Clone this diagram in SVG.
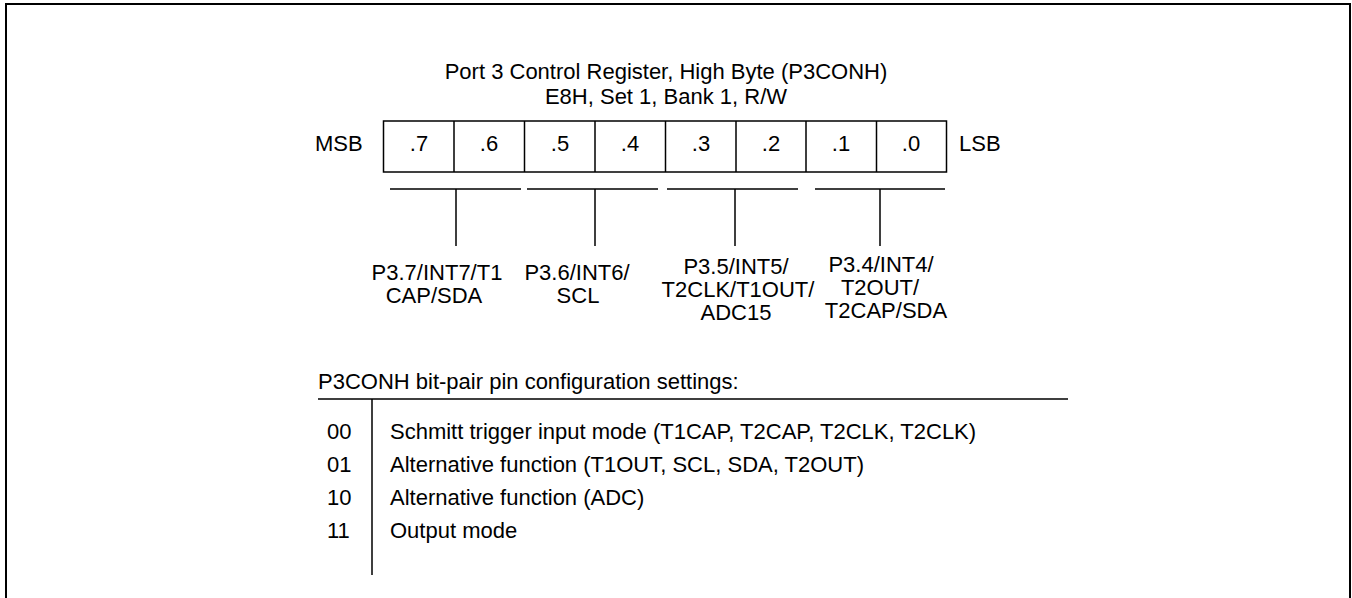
<svg xmlns="http://www.w3.org/2000/svg" width="1352" height="598" viewBox="0 0 1352 598">
<style>
text{font-family:"Liberation Sans",Arial,sans-serif;font-size:22px;fill:#000}
.c{text-anchor:middle}
.ln{stroke:#000;stroke-width:1.5;fill:none}
</style>
<rect x="0" y="0" width="1352" height="598" fill="#fff"/>
<rect x="6" y="4" width="1344" height="700" fill="none" stroke="#000" stroke-width="2"/>
<g id="title">
<text class="c" x="666" y="79">Port 3 Control Register, High Byte (P3CONH)</text>
<text class="c" x="666" y="104">E8H, Set 1, Bank 1, R/W</text>
</g>
<g id="register">
<text x="315" y="151">MSB</text>
<text x="959" y="151">LSB</text>
<rect class="ln" x="383.5" y="121" width="563" height="51"/>
<path class="ln" d="M454 121V172M524.5 121V172M595 121V172M665.5 121V172M736 121V172M806 121V172M876.5 121V172"/>
<text class="c" x="419" y="151">.7</text>
<text class="c" x="489" y="151">.6</text>
<text class="c" x="560" y="151">.5</text>
<text class="c" x="630" y="151">.4</text>
<text class="c" x="701" y="151">.3</text>
<text class="c" x="771" y="151">.2</text>
<text class="c" x="841" y="151">.1</text>
<text class="c" x="911" y="151">.0</text>
</g>
<g id="connectors">
<path class="ln" d="M390 189H521M456 189V246"/>
<path class="ln" d="M527 189H658M595 189V246"/>
<path class="ln" d="M667 189H798M735 189V246"/>
<path class="ln" d="M815 189H945M880 189V246"/>
</g>
<g id="bits76">
<text class="c" x="437" y="280">P3.7/INT7/T1</text>
<text class="c" x="434" y="303">CAP/SDA</text>
</g>
<g id="bits54">
<text class="c" x="577" y="280">P3.6/INT6/</text>
<text class="c" x="578" y="303">SCL</text>
</g>
<g id="bits32">
<text class="c" x="736" y="274">P3.5/INT5/</text>
<text class="c" x="738" y="297">T2CLK/T1OUT/</text>
<text class="c" x="736" y="320">ADC15</text>
</g>
<g id="bits10">
<text class="c" x="881" y="272">P3.4/INT4/</text>
<text class="c" x="880" y="295">T2OUT/</text>
<text class="c" x="886" y="318">T2CAP/SDA</text>
</g>
<g id="settings">
<text x="318" y="389">P3CONH bit-pair pin configuration settings:</text>
<path class="ln" d="M318 399H1068M372 399V575"/>
<text x="327" y="439">00</text>
<text x="390" y="439">Schmitt trigger input mode (T1CAP, T2CAP, T2CLK, T2CLK)</text>
<text x="327" y="472">01</text>
<text x="390" y="472">Alternative function (T1OUT, SCL, SDA, T2OUT)</text>
<text x="327" y="505">10</text>
<text x="390" y="505">Alternative function (ADC)</text>
<text x="327" y="538">11</text>
<text x="390" y="538">Output mode</text>
</g>
</svg>
